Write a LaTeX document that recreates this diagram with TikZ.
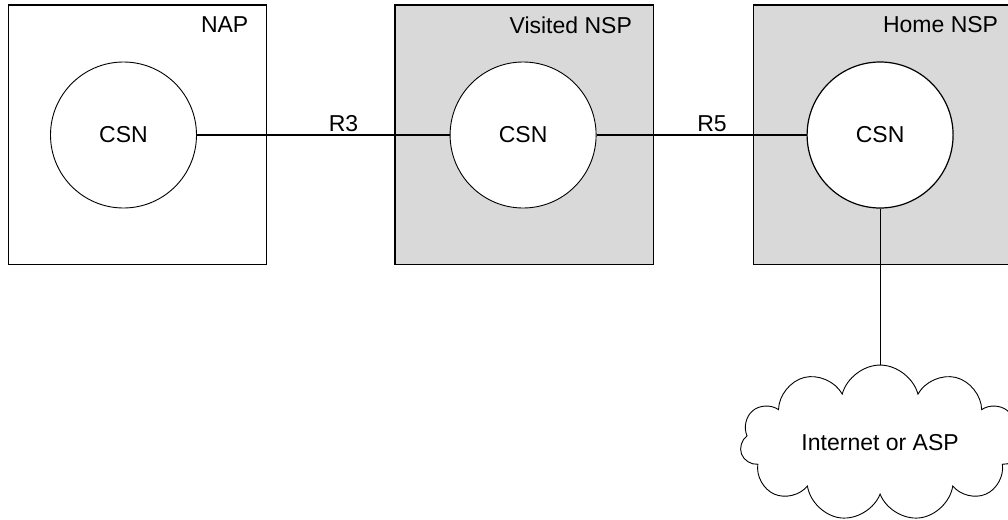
\documentclass[tikz,border=0pt]{standalone}
\usepackage{fontspec}
\setmainfont{Liberation Sans}
\usetikzlibrary{shapes.symbols, positioning}

\begin{document}
\begin{tikzpicture}[
    x=1pt, y=1pt,
    node distance=64.5pt,
    netbox/.style={rectangle, draw, line width=0.6pt, minimum width=129.2pt, minimum height=129.7pt, inner sep=0pt},
    csn/.style={circle, draw, fill=white, line width=0.45pt, minimum size=73pt, inner sep=0pt, font=\fontsize{11.5}{13}\selectfont},
    lbl/.style={anchor=north east, inner sep=0pt, font=\fontsize{11.5}{13}\selectfont},
    link/.style={line width=0.6pt}
]
\useasboundingbox (0,0) rectangle (504,-260);

% Domains
\node[netbox] (nap) at (68.75,-67.3) {};
\node[netbox, fill=black!15, right=63.5pt of nap] (vnsp) {};
\node[netbox, fill=black!15, right=49.5pt of vnsp] (hnsp) {};

\node[lbl] at ([shift={(-9.3pt,-6pt)}]nap.north east) {NAP};
\node[lbl] at ([shift={(-10.8pt,-6pt)}]vnsp.north east) {Visited NSP};
\node[lbl] at ([shift={(-7pt,-6pt)}]hnsp.north east) {Home NSP};

% CSNs
\node[csn, xshift=-7pt, yshift=-0.2pt] (napcsn) at (nap) {CSN};
\node[csn, xshift=-0.5pt, yshift=-0.2pt] (vcsn) at (vnsp) {CSN};
\node[csn, xshift=-1.3pt, yshift=-0.2pt, line width=0.6pt] (hcsn) at (hnsp) {CSN};

% Internet / ASP
\node[cloud, draw, cloud puffs=11, cloud ignores aspect, minimum width=140pt, minimum height=78pt,
      line width=0.45pt, inner sep=0pt, font=\fontsize{11.5}{13}\selectfont, below=78pt of hcsn] (inet) {Internet or ASP};

% Links
\draw[link] (napcsn) -- node[above, pos=0.58, inner sep=1.5pt, font=\fontsize{11.5}{13}\selectfont] {R3} (vcsn);
\draw[link] (vcsn) -- node[above, pos=0.55, inner sep=1.5pt, font=\fontsize{11.5}{13}\selectfont] {R5} (hcsn);
\draw[link] (hcsn) -- (inet);

\end{tikzpicture}
\end{document}
